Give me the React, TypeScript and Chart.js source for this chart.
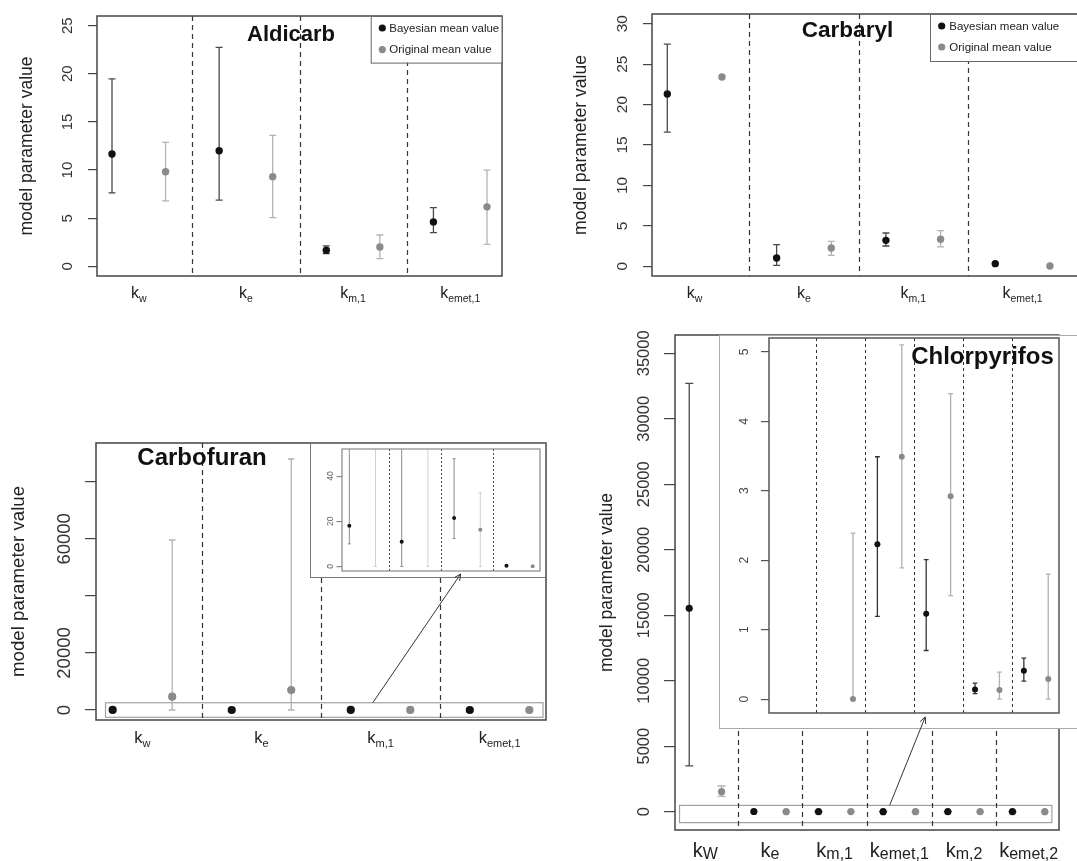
import React, { useEffect, useRef } from 'react';
import { Chart, registerables } from 'chart.js';

Chart.register(...registerables);

const FONT = "'Liberation Sans', Arial, Helvetica, sans-serif";
const seriesNames = ['Bayesian mean value', 'Original mean value'];

// ---------------- Aldicarb ----------------
const aldicarbCategories = ['k_w', 'k_e', 'k_m,1', 'k_emet,1'];
const aldicarbBayesMean = [11.67, 12.01, 1.67, 4.62];
const aldicarbBayesLow = [7.64, 6.88, 1.32, 3.51];
const aldicarbBayesHigh = [19.48, 22.74, 2.12, 6.11];
const aldicarbOrigMean = [9.83, 9.31, 2.01, 6.18];
const aldicarbOrigLow = [6.8, 5.07, 0.8, 2.29];
const aldicarbOrigHigh = [12.88, 13.61, 3.26, 10.0];
const aldicarbYTicks = [0, 5, 10, 15, 20, 25];
const aldicarbYTickLabels = ['0', '5', '10', '15', '20', '25'];

// ---------------- Carbaryl ----------------
const carbarylCategories = ['k_w', 'k_e', 'k_m,1', 'k_emet,1'];
const carbarylBayesMean = [21.3, 1.03, 3.21, 0.33];
const carbarylBayesLow = [16.6, 0.12, 2.51, null];
const carbarylBayesHigh = [27.48, 2.68, 4.12, null];
const carbarylOrigMean = [23.4, 2.27, 3.34, 0.04];
const carbarylOrigLow = [null, 1.36, 2.39, null];
const carbarylOrigHigh = [null, 3.09, 4.41, null];
const carbarylYTicks = [0, 5, 10, 15, 20, 25, 30];
const carbarylYTickLabels = ['0', '5', '10', '15', '20', '25', '30'];

// ---------------- Carbofuran ----------------
const carbofuranCategories = ['k_w', 'k_e', 'k_m,1', 'k_emet,1'];
const carbofuranBayesMean = [18, 11, 21.5, 0.3];
const carbofuranBayesLow = [10, 0, 12.4, null];
const carbofuranBayesHigh = [150, 120, 47.7, null];
const carbofuranOrigMean = [4665, 7000, 16.3, 0.1];
const carbofuranOrigLow = [0, 0, 0, null];
const carbofuranOrigHigh = [59600, 88000, 32.7, null];
const carbofuranYTicks = [0, 20000, 40000, 60000, 80000];
const carbofuranYTickLabels = ['0', '20000', '', '60000', ''];
const carbofuranInsetYTicks = [0, 20, 40];
const carbofuranInsetYTickLabels = ['0', '20', '40'];

// ---------------- Chlorpyrifos ----------------
const chlorpyrifosCategories = ['k_W', 'k_e', 'k_m,1', 'k_emet,1', 'k_m,2', 'k_emet,2'];
const chlorpyrifosBayesMean = [15530, 12, 2.23, 1.23, 0.14, 0.41];
const chlorpyrifosBayesLow = [3490, null, 1.19, 0.7, 0.08, 0.26];
const chlorpyrifosBayesHigh = [32700, null, 3.49, 2.01, 0.23, 0.59];
const chlorpyrifosOrigMean = [1530, 0, 3.49, 2.92, 0.13, 0.29];
const chlorpyrifosOrigLow = [1170, 0, 1.89, 1.49, 0, 0];
const chlorpyrifosOrigHigh = [1960, 2.39, 5.1, 4.4, 0.39, 1.8];
const chlorpyrifosYTicks = [0, 5000, 10000, 15000, 20000, 25000, 30000, 35000];
const chlorpyrifosYTickLabels = ['0', '5000', '10000', '15000', '20000', '25000', '30000', '35000'];
const chlorpyrifosInsetYTicks = [0, 1, 2, 3, 4, 5];
const chlorpyrifosInsetYTickLabels = ['0', '1', '2', '3', '4', '5'];

const baseStyle = {
  tickLen: 9, tickFont: 15, tickLabelGap: 25, tickColor: '#444', tickLabelColor: '#333',
  pointR: 3.7, cap: 3.5, errWidth: 1.3,
  bayesErr: '#4a4a4a', origErr: '#b3b3b3', bayesPt: '#111111', origPt: '#8a8a8a',
  frameColor: '#444', frameWidth: 1.5,
  sepColor: '#333', sepDash: [5, 4], sepWidth: 1.2,
};

const panels: any[] = [
  {
    ...baseStyle,
    key: 'aldicarb',
    canvas: { left: 0, top: 0, width: 512, height: 316 },
    pad: { l: 97, t: 16, r: 10, b: 40 },
    x: [0.72, 8.28], y: [-1, 26],
    categories: aldicarbCategories,
    bayes: { mean: aldicarbBayesMean, low: aldicarbBayesLow, high: aldicarbBayesHigh },
    orig: { mean: aldicarbOrigMean, low: aldicarbOrigLow, high: aldicarbOrigHigh },
    yTicks: aldicarbYTicks, yTickLabels: aldicarbYTickLabels,
    xLabels: { main: 16, sub: 10.5, gap: 22, subDrop: 4 },
    yTitle: { size: 17.5, dx: -70.3 },
    title: { text: 'Aldicarb', size: 22, dx: 194, dy: 25 },
    legend: { dx: 273.7, w: 131, h: 46.6, rows: [12, 33.6], dotDx: 11.6, textDx: 18.6, size: 11.5 },
  },
  {
    ...baseStyle,
    key: 'carbaryl',
    canvas: { left: 552, top: 0, width: 545, height: 316 },
    pad: { l: 100, t: 14, r: 5, b: 40 },
    x: [0.72, 8.77], y: [-1.2, 31.2],
    categories: carbarylCategories,
    bayes: { mean: carbarylBayesMean, low: carbarylBayesLow, high: carbarylBayesHigh },
    orig: { mean: carbarylOrigMean, low: carbarylOrigLow, high: carbarylOrigHigh },
    yTicks: carbarylYTicks, yTickLabels: carbarylYTickLabels,
    tickFont: 15.5,
    xLabels: { main: 16, sub: 10.5, gap: 22, subDrop: 4 },
    yTitle: { size: 17.6, dx: -70.5 },
    title: { text: 'Carbaryl', size: 22.5, dx: 195.5, dy: 22.5 },
    legend: { dx: 278, w: 200, h: 47, rows: [12, 33], dotDx: 11.7, textDx: 19.3, size: 11.5 },
  },
  {
    ...baseStyle,
    key: 'carbofuran',
    canvas: { left: 0, top: 433, width: 552, height: 332 },
    pad: { l: 96, t: 10, r: 6, b: 45 },
    x: [0.72, 8.28], y: [-3500, 93600],
    categories: carbofuranCategories,
    bayes: { mean: carbofuranBayesMean, low: carbofuranBayesLow, high: carbofuranBayesHigh },
    orig: { mean: carbofuranOrigMean, low: carbofuranOrigLow, high: carbofuranOrigHigh },
    yTicks: carbofuranYTicks, yTickLabels: carbofuranYTickLabels,
    tickLen: 11, tickFont: 18.5, tickLabelGap: 25.7,
    pointR: 4.1, cap: 3.3,
    xLabels: { main: 16.5, sub: 11, gap: 23, subDrop: 4 },
    yTitle: { size: 18.7, dx: -77.4 },
    title: { text: 'Carbofuran', size: 24, dx: 106, dy: 22 },
    zoomBox: { x0: 0.88, x1: 8.23, y0: -2550, y1: 2550, color: '#a0a0a0' },
  },
  {
    ...baseStyle,
    key: 'carbofuranInset',
    canvas: { left: 310, top: 443, width: 236, height: 135 },
    pad: { l: 32, t: 6, r: 6, b: 7 },
    x: [0.72, 8.28], y: [-2, 52],
    categories: carbofuranCategories,
    bayes: { mean: carbofuranBayesMean, low: carbofuranBayesLow, high: carbofuranBayesHigh },
    orig: { mean: carbofuranOrigMean, low: carbofuranOrigLow, high: carbofuranOrigHigh },
    yTicks: carbofuranInsetYTicks, yTickLabels: carbofuranInsetYTickLabels,
    tickLen: 5.5, tickFont: 8.5, tickLabelGap: 9, tickColor: '#888', tickLabelColor: '#666',
    pointR: 2, cap: 1.5, errWidth: 1,
    bayesErr: '#8c8c8c', origErr: '#d0d0d0',
    frameColor: '#888', frameWidth: 1.2,
    sepColor: '#444', sepDash: [2, 2], sepWidth: 1,
    clip: true,
    opaque: { border: '#777' },
  },
  {
    ...baseStyle,
    key: 'chlorpyrifos',
    canvas: { left: 575, top: 325, width: 494, height: 536 },
    pad: { l: 100, t: 10, r: 10, b: 31 },
    x: [0.56, 12.44], y: [-1400, 36400],
    categories: chlorpyrifosCategories,
    bayes: { mean: chlorpyrifosBayesMean, low: chlorpyrifosBayesLow, high: chlorpyrifosBayesHigh },
    orig: { mean: chlorpyrifosOrigMean, low: chlorpyrifosOrigLow, high: chlorpyrifosOrigHigh },
    yTicks: chlorpyrifosYTicks, yTickLabels: chlorpyrifosYTickLabels,
    tickLen: 11, tickFont: 16.5, tickLabelGap: 26,
    pointR: 3.6, cap: 4,
    xLabels: { main: 20, sub: 16, gap: 26.7, subDrop: 2 },
    yTitle: { size: 17.5, dx: -67.5 },
    zoomBox: { x0: 0.7, x1: 12.22, y0: -837, y1: 480, color: '#a0a0a0' },
  },
  {
    ...baseStyle,
    key: 'chlorpyrifosInset',
    canvas: { left: 719, top: 335, width: 376, height: 394 },
    pad: { l: 50, t: 1, r: 36, b: 16 },
    x: [0.56, 12.44], y: [-0.2, 5.2],
    categories: chlorpyrifosCategories,
    bayes: { mean: chlorpyrifosBayesMean, low: chlorpyrifosBayesLow, high: chlorpyrifosBayesHigh },
    orig: { mean: chlorpyrifosOrigMean, low: chlorpyrifosOrigLow, high: chlorpyrifosOrigHigh },
    yTicks: chlorpyrifosInsetYTicks, yTickLabels: chlorpyrifosInsetYTickLabels,
    tickLen: 8, tickFont: 12, tickLabelGap: 20.7, tickColor: '#555', tickLabelColor: '#444',
    pointR: 3, cap: 2.4, errWidth: 1.3,
    bayesErr: '#333', origErr: '#b0b0b0',
    frameColor: '#555', frameWidth: 1.5,
    sepColor: '#333', sepDash: [3, 3], sepWidth: 1,
    title: { text: 'Chlorpyrifos', size: 24, dx: 213.5, dy: 25.7 },
    clip: true,
    opaque: { border: '#aaa' },
  },
];

const arrows = [
  { from: 2, fx: 5.37, fy: 2550, to: 3, tx: 5.25, gap: 3 },
  { from: 4, fx: 7.2, fy: 480, to: 5, tx: 6.96, gap: 4 },
];

function makePlugin(p: any) {
  const n = p.categories.length;
  return {
    id: 'panel_' + p.key,
    beforeDraw(chart: any) {
      if (!p.opaque) return;
      const ctx = chart.ctx;
      ctx.save();
      ctx.fillStyle = '#ffffff';
      ctx.fillRect(0, 0, chart.width, chart.height);
      ctx.strokeStyle = p.opaque.border;
      ctx.lineWidth = 1;
      ctx.strokeRect(0.5, 0.5, chart.width - 1, chart.height - 1);
      ctx.restore();
    },
    beforeDatasetsDraw(chart: any) {
      const ctx = chart.ctx;
      const a = chart.chartArea;
      const xs = chart.scales.x;
      const ys = chart.scales.y;
      ctx.save();
      ctx.beginPath();
      ctx.rect(a.left, a.top, a.right - a.left, a.bottom - a.top);
      ctx.clip();
      // zoom highlight box
      if (p.zoomBox) {
        const z = p.zoomBox;
        const x0 = xs.getPixelForValue(z.x0);
        const x1 = xs.getPixelForValue(z.x1);
        const y0 = ys.getPixelForValue(z.y1);
        const y1 = ys.getPixelForValue(z.y0);
        ctx.strokeStyle = z.color;
        ctx.lineWidth = 1.2;
        ctx.strokeRect(x0, y0, x1 - x0, y1 - y0);
      }
      // category separators
      ctx.setLineDash(p.sepDash);
      ctx.strokeStyle = p.sepColor;
      ctx.lineWidth = p.sepWidth;
      for (let k = 0; k < n - 1; k++) {
        const px = Math.round(xs.getPixelForValue(2 * k + 2.5)) + 0.5;
        ctx.beginPath();
        ctx.moveTo(px, a.top);
        ctx.lineTo(px, a.bottom);
        ctx.stroke();
      }
      ctx.setLineDash([]);
      // error bars
      chart.data.datasets.forEach((ds: any) => {
        ctx.strokeStyle = ds.errColor;
        ctx.lineWidth = p.errWidth;
        ds.data.forEach((pt: any, i: number) => {
          const lo = ds.low[i];
          const hi = ds.high[i];
          if (lo == null || hi == null) return;
          const px = xs.getPixelForValue(pt.x);
          const yl = ys.getPixelForValue(lo);
          const yh = ys.getPixelForValue(hi);
          ctx.beginPath();
          ctx.moveTo(px, yl);
          ctx.lineTo(px, yh);
          ctx.moveTo(px - p.cap, yl);
          ctx.lineTo(px + p.cap, yl);
          ctx.moveTo(px - p.cap, yh);
          ctx.lineTo(px + p.cap, yh);
          ctx.stroke();
        });
      });
      ctx.restore();
    },
    afterDraw(chart: any) {
      const ctx = chart.ctx;
      const a = chart.chartArea;
      const xs = chart.scales.x;
      const ys = chart.scales.y;
      ctx.save();
      // frame
      ctx.strokeStyle = p.frameColor;
      ctx.lineWidth = p.frameWidth;
      ctx.strokeRect(a.left, a.top, a.right - a.left, a.bottom - a.top);
      // y tick labels (rotated, R style)
      ctx.fillStyle = p.tickLabelColor;
      ctx.font = `${p.tickFont}px ${FONT}`;
      ctx.textAlign = 'center';
      ctx.textBaseline = 'alphabetic';
      p.yTicks.forEach((v: number, i: number) => {
        const lab = p.yTickLabels[i];
        if (!lab) return;
        const py = ys.getPixelForValue(v);
        ctx.save();
        ctx.translate(a.left - p.tickLabelGap, py);
        ctx.rotate(-Math.PI / 2);
        ctx.fillText(lab, 0, 0);
        ctx.restore();
      });
      // x category labels with subscripts
      if (p.xLabels) {
        const xl = p.xLabels;
        ctx.fillStyle = '#222';
        ctx.textAlign = 'left';
        p.categories.forEach((c: string, i: number) => {
          const [main, sub] = c.split('_');
          const cx = xs.getPixelForValue(2 * i + 1.5);
          ctx.font = `${xl.main}px ${FONT}`;
          const wm = ctx.measureText(main).width;
          ctx.font = `${xl.sub}px ${FONT}`;
          const ws = ctx.measureText(sub || '').width;
          const sx = cx - (wm + ws) / 2;
          const by = a.bottom + xl.gap;
          ctx.font = `${xl.main}px ${FONT}`;
          ctx.fillText(main, sx, by);
          if (sub) {
            ctx.font = `${xl.sub}px ${FONT}`;
            ctx.fillText(sub, sx + wm, by + xl.subDrop);
          }
        });
      }
      // y axis title
      if (p.yTitle) {
        ctx.save();
        ctx.fillStyle = '#222';
        ctx.font = `${p.yTitle.size}px ${FONT}`;
        ctx.textAlign = 'center';
        ctx.textBaseline = 'middle';
        ctx.translate(a.left + p.yTitle.dx, (a.top + a.bottom) / 2);
        ctx.rotate(-Math.PI / 2);
        ctx.fillText('model parameter value', 0, 0);
        ctx.restore();
      }
      // title
      if (p.title) {
        ctx.fillStyle = '#111';
        ctx.font = `bold ${p.title.size}px ${FONT}`;
        ctx.textAlign = 'center';
        ctx.textBaseline = 'alphabetic';
        ctx.fillText(p.title.text, a.left + p.title.dx, a.top + p.title.dy);
      }
      // legend
      if (p.legend) {
        const lg = p.legend;
        const bx = a.left + lg.dx;
        const by = a.top;
        ctx.fillStyle = '#fff';
        ctx.fillRect(bx, by, lg.w, lg.h);
        ctx.strokeStyle = '#666';
        ctx.lineWidth = 1;
        ctx.strokeRect(bx + 0.5, by + 0.5, lg.w, lg.h);
        ctx.font = `${lg.size}px ${FONT}`;
        ctx.textAlign = 'left';
        ctx.textBaseline = 'middle';
        chart.data.datasets.forEach((ds: any, i: number) => {
          const ry = by + lg.rows[i];
          ctx.fillStyle = ds.pointBackgroundColor;
          ctx.beginPath();
          ctx.arc(bx + lg.dotDx, ry, 3.6, 0, Math.PI * 2);
          ctx.fill();
          ctx.fillStyle = '#222';
          ctx.fillText(ds.label, bx + lg.textDx, ry + 0.5);
        });
      }
      ctx.restore();
    },
  };
}

function buildConfig(p: any) {
  const bx = p.categories.map((_: any, i: number) => 2 * i + 1);
  const ox = p.categories.map((_: any, i: number) => 2 * i + 2);
  const mk = (xs: number[], ys: number[]) => xs.map((x, i) => ({ x, y: ys[i] }));
  const common = {
    showLine: false,
    pointRadius: p.pointR,
    pointHoverRadius: p.pointR,
    pointBorderWidth: 0,
    clip: p.clip ? 0 : undefined,
  };
  return {
    type: 'scatter',
    data: {
      datasets: [
        {
          ...common,
          label: seriesNames[0],
          data: mk(bx, p.bayes.mean),
          low: p.bayes.low,
          high: p.bayes.high,
          errColor: p.bayesErr,
          pointBackgroundColor: p.bayesPt,
          pointBorderColor: p.bayesPt,
          backgroundColor: p.bayesPt,
        },
        {
          ...common,
          label: seriesNames[1],
          data: mk(ox, p.orig.mean),
          low: p.orig.low,
          high: p.orig.high,
          errColor: p.origErr,
          pointBackgroundColor: p.origPt,
          pointBorderColor: p.origPt,
          backgroundColor: p.origPt,
        },
      ],
    },
    options: {
      responsive: false,
      animation: false,
      devicePixelRatio: 1,
      events: [],
      layout: { padding: { left: 0, top: p.pad.t, right: p.pad.r, bottom: 0 } },
      plugins: { legend: { display: false }, tooltip: { enabled: false }, title: { display: false } },
      scales: {
        x: {
          type: 'linear',
          min: p.x[0],
          max: p.x[1],
          grid: { display: false },
          border: { display: false },
          ticks: { display: false },
          afterFit: (s: any) => { s.height = p.pad.b; },
        },
        y: {
          type: 'linear',
          min: p.y[0],
          max: p.y[1],
          grid: { drawOnChartArea: false, drawTicks: true, tickLength: p.tickLen, color: p.tickColor, tickColor: p.tickColor, lineWidth: 1.2 },
          border: { display: false },
          ticks: { display: false },
          afterBuildTicks: (s: any) => { s.ticks = p.yTicks.map((v: number) => ({ value: v })); },
          afterFit: (s: any) => { s.width = p.pad.l; },
        },
      },
    },
    plugins: [makePlugin(p)],
  } as any;
}

function drawArrow(ctx: CanvasRenderingContext2D, x1: number, y1: number, x2: number, y2: number) {
  ctx.save();
  ctx.strokeStyle = '#333';
  ctx.lineWidth = 1;
  ctx.beginPath();
  ctx.moveTo(x1, y1);
  ctx.lineTo(x2, y2);
  const ang = Math.atan2(y2 - y1, x2 - x1);
  const L = 7;
  const w = 0.45;
  ctx.moveTo(x2, y2);
  ctx.lineTo(x2 - L * Math.cos(ang - w), y2 - L * Math.sin(ang - w));
  ctx.moveTo(x2, y2);
  ctx.lineTo(x2 - L * Math.cos(ang + w), y2 - L * Math.sin(ang + w));
  ctx.stroke();
  ctx.restore();
}

export default function App() {
  const refs = useRef<(HTMLCanvasElement | null)[]>([]);
  const overlayRef = useRef<HTMLCanvasElement | null>(null);

  useEffect(() => {
    const charts = panels.map((p, i) => new Chart(refs.current[i] as HTMLCanvasElement, buildConfig(p)));
    const ov = overlayRef.current;
    if (ov) {
      const ctx = ov.getContext('2d') as CanvasRenderingContext2D;
      ctx.clearRect(0, 0, ov.width, ov.height);
      arrows.forEach((ar) => {
        const fc: any = charts[ar.from];
        const tc: any = charts[ar.to];
        const fp = panels[ar.from].canvas;
        const tp = panels[ar.to].canvas;
        const x1 = fp.left + fc.scales.x.getPixelForValue(ar.fx);
        const y1 = fp.top + fc.scales.y.getPixelForValue(ar.fy);
        const x2 = tp.left + tc.scales.x.getPixelForValue(ar.tx);
        const y2 = tp.top + tc.chartArea.bottom + ar.gap;
        drawArrow(ctx, x1, y1, x2, y2);
      });
    }
    return () => {
      charts.forEach((c) => c.destroy());
    };
  }, []);

  return (
    <div style={{ position: 'fixed', left: 0, top: 0, width: 1077, height: 861, overflow: 'hidden', background: '#fff' }}>
      {panels.map((p, i) => (
        <canvas
          key={p.key}
          ref={(el) => { refs.current[i] = el; }}
          width={p.canvas.width}
          height={p.canvas.height}
          style={{ position: 'absolute', left: p.canvas.left, top: p.canvas.top, width: p.canvas.width, height: p.canvas.height }}
        />
      ))}
      <canvas
        ref={overlayRef}
        width={1077}
        height={861}
        style={{ position: 'absolute', left: 0, top: 0, width: 1077, height: 861, pointerEvents: 'none' }}
      />
    </div>
  );
}
